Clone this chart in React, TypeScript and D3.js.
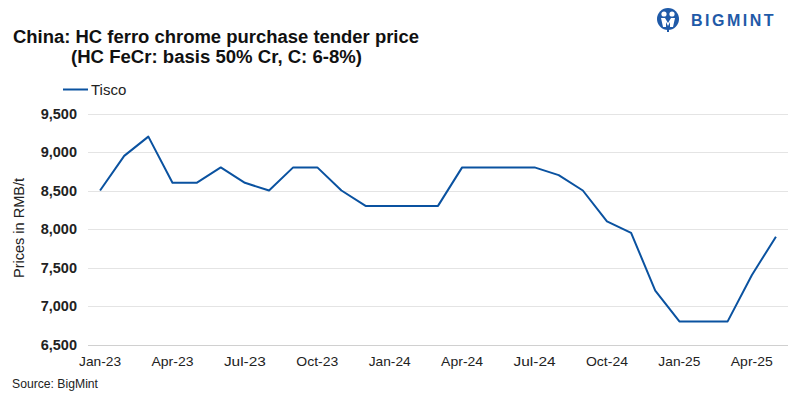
import { useEffect, useRef } from "react";
import * as d3 from "d3";

const months = [
  "Jan-23", "Feb-23", "Mar-23", "Apr-23", "May-23", "Jun-23", "Jul-23", "Aug-23", "Sep-23", "Oct-23", "Nov-23", "Dec-23",
  "Jan-24", "Feb-24", "Mar-24", "Apr-24", "May-24", "Jun-24", "Jul-24", "Aug-24", "Sep-24", "Oct-24", "Nov-24", "Dec-24",
  "Jan-25", "Feb-25", "Mar-25", "Apr-25", "May-25",
];
const tisco = [
  8500, 8950, 9200, 8600, 8600, 8800, 8600, 8500, 8800, 8800, 8500, 8300,
  8300, 8300, 8300, 8800, 8800, 8800, 8800, 8700, 8500, 8100, 7950, 7200,
  6800, 6800, 6800, 7400, 7900,
];
const yTicks = [6500, 7000, 7500, 8000, 8500, 9000, 9500];
const xTickLabels = ["Jan-23", "Apr-23", "Jul-23", "Oct-23", "Jan-24", "Apr-24", "Jul-24", "Oct-24", "Jan-25", "Apr-25"];

const W = 800;
const H = 398;
const BLUE = "#0a52a0";
const FONT = "'Liberation Sans', Arial, sans-serif";

export default function App() {
  const svgRef = useRef<SVGSVGElement>(null);

  useEffect(() => {
    if (!svgRef.current) return;
    const svg = d3.select(svgRef.current);
    svg.selectAll("*").remove();

    const x = d3.scalePoint<string>().domain(months).range([88, 788]).padding(0.5);
    const y = d3.scaleLinear().domain([6500, 9500]).range([344.5, 113.5]);

    // gridlines
    svg
      .append("g")
      .selectAll("line")
      .data(yTicks)
      .join("line")
      .attr("x1", 88)
      .attr("x2", 788)
      .attr("y1", (d) => Math.round(y(d)) + 0.5)
      .attr("y2", (d) => Math.round(y(d)) + 0.5)
      .attr("stroke", (d) => (d === 6500 ? "#d0d0d0" : "#e4e4e4"))
      .attr("stroke-width", 1);

    // y labels
    svg
      .append("g")
      .selectAll("text")
      .data(yTicks)
      .join("text")
      .attr("x", 77)
      .attr("y", (d) => y(d))
      .attr("dy", "0.35em")
      .attr("text-anchor", "end")
      .attr("font-family", FONT)
      .attr("font-weight", "bold")
      .attr("font-size", 14.5)
      .attr("fill", "#222")
      .text((d) => d3.format(",")(d));

    // x labels
    svg
      .append("g")
      .selectAll("text")
      .data(xTickLabels)
      .join("text")
      .attr("x", (d) => x(d)!)
      .attr("y", 361)
      .attr("dy", "0.35em")
      .attr("text-anchor", "middle")
      .attr("font-family", FONT)
      .attr("font-size", 13)
      .attr("textLength", 42)
      .attr("lengthAdjust", "spacingAndGlyphs")
      .attr("fill", "#222")
      .text((d) => d);

    // y title
    svg
      .append("text")
      .attr("transform", "translate(19,228) rotate(-90)")
      .attr("text-anchor", "middle")
      .attr("dy", "0.35em")
      .attr("font-family", FONT)
      .attr("font-size", 15)
      .attr("textLength", 100)
      .attr("lengthAdjust", "spacingAndGlyphs")
      .attr("fill", "#222")
      .text("Prices in RMB/t");

    // line
    const line = d3
      .line<number>()
      .x((_, i) => x(months[i])!)
      .y((d) => y(d));
    svg
      .append("path")
      .datum(tisco)
      .attr("d", line)
      .attr("fill", "none")
      .attr("stroke", BLUE)
      .attr("stroke-width", 2)
      .attr("stroke-linejoin", "round");

    // legend
    svg.append("line").attr("x1", 63).attr("x2", 88).attr("y1", 89.5).attr("y2", 89.5).attr("stroke", BLUE).attr("stroke-width", 2);
    svg
      .append("text")
      .attr("x", 91)
      .attr("y", 89.5)
      .attr("dy", "0.35em")
      .attr("font-family", FONT)
      .attr("font-size", 15)
      .attr("fill", "#222")
      .text("Tisco");

    // title
    svg
      .append("text")
      .attr("x", 13)
      .attr("y", 43)
      .attr("font-family", FONT)
      .attr("font-weight", "bold")
      .attr("font-size", 18)
      .attr("textLength", 406)
      .attr("lengthAdjust", "spacingAndGlyphs")
      .attr("fill", "#111")
      .text("China: HC ferro chrome purchase tender price");
    svg
      .append("text")
      .attr("x", 71)
      .attr("y", 63)
      .attr("font-family", FONT)
      .attr("font-weight", "bold")
      .attr("font-size", 18)
      .attr("textLength", 291)
      .attr("lengthAdjust", "spacingAndGlyphs")
      .attr("fill", "#111")
      .text("(HC FeCr: basis 50% Cr, C: 6-8%)");

    // source
    svg
      .append("text")
      .attr("x", 12)
      .attr("y", 384)
      .attr("dy", "0.35em")
      .attr("font-family", FONT)
      .attr("font-size", 12)
      .attr("textLength", 86)
      .attr("lengthAdjust", "spacingAndGlyphs")
      .attr("fill", "#222")
      .text("Source: BigMint");

    // logo
    const logo = svg.append("g").attr("transform", "translate(668,19)");
    logo.append("circle").attr("r", 11).attr("fill", "#1f5aa8");
    logo.append("circle").attr("cx", -4).attr("cy", -5).attr("r", 2.6).attr("fill", "#fff");
    logo.append("circle").attr("cx", 4).attr("cy", -5).attr("r", 2.6).attr("fill", "#fff");
    logo
      .append("path")
      .attr("d", "M-7,-1 L-3,-1 L0,4 L3,-1 L7,-1 L5,8 L2,8 L2,3 L0,7 L-2,3 L-2,8 L-5,8 Z")
      .attr("fill", "#fff");
    logo.append("rect").attr("x", -1).attr("y", 8).attr("width", 2).attr("height", 5).attr("fill", "#1f5aa8");
    svg
      .append("text")
      .attr("x", 691)
      .attr("y", 20)
      .attr("dy", "0.35em")
      .attr("font-family", FONT)
      .attr("font-weight", "bold")
      .attr("font-size", 16)
      .attr("letter-spacing", 2.5)
      .attr("fill", "#1f5aa8")
      .text("BIGMINT");
  }, []);

  return (
    <svg
      ref={svgRef}
      width={W}
      height={H}
      style={{ position: "absolute", left: 0, top: 0, background: "#fff" }}
    />
  );
}
